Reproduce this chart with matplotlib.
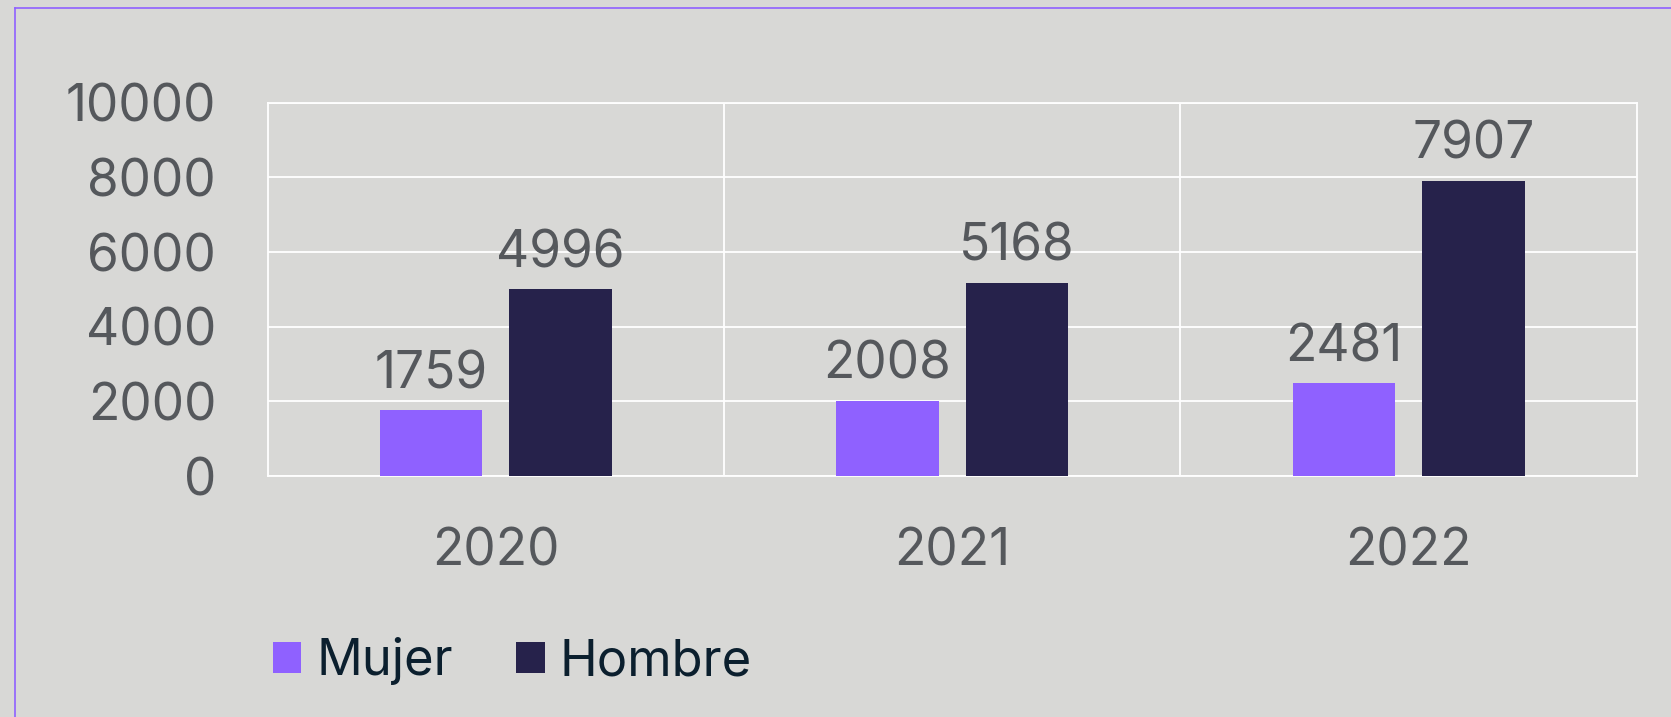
import matplotlib
matplotlib.use('Agg')
import matplotlib.pyplot as plt
from matplotlib.lines import Line2D
import numpy as np

# data
years = ['2020', '2021', '2022']
mujer = [1759, 2008, 2481]
hombre = [4996, 5168, 7907]
y_ticks = [0, 2000, 4000, 6000, 8000, 10000]

bg = '#d8d8d6'
c_mujer = '#8f61ff'
c_hombre = '#26224b'
c_text = '#55585c'
c_legend = '#0b1f2e'

plt.rcParams['font.family'] = ['Inter', 'DejaVu Sans']

fig = plt.figure(figsize=(16.71, 7.17), dpi=100, facecolor=bg)
ax = fig.add_axes([0.1601, 0.3361, 0.8195, 0.5207])
ax.set_facecolor(bg)

x = np.arange(len(years))
off = 0.142
w = 0.225
b1 = ax.bar(x - off, mujer, w, color=c_mujer, label='Mujer', zorder=3)
b2 = ax.bar(x + off, hombre, w, color=c_hombre, label='Hombre', zorder=3)

ax.bar_label(b1, padding=8, fontsize=37, color=c_text)
ax.bar_label(b2, padding=8, fontsize=37, color=c_text)

ax.set_xlim(-0.5, len(years) - 0.5)
ax.set_ylim(0, 10000)
ax.set_yticks(y_ticks)
ax.set_yticklabels([str(v) for v in y_ticks])
ax.set_xticks(x)
ax.set_xticklabels(years)

# white grid: horizontal at y ticks, vertical between categories
for v in y_ticks:
    ax.axhline(v, color='white', lw=1.3, zorder=1)
for b in [0.5, 1.5]:
    ax.axvline(b, color='white', lw=1.3, zorder=1)
for s in ax.spines.values():
    s.set_color('white')
    s.set_linewidth(1.3)

ax.tick_params(axis='y', length=0, pad=37, labelsize=37, labelcolor=c_text)
ax.tick_params(axis='x', length=0, pad=37, labelsize=37, labelcolor=c_text)

leg = ax.legend(loc='center left', bbox_to_anchor=(272.7 / 1671, 1 - 661 / 717),
                bbox_transform=fig.transFigure, ncol=2, frameon=False,
                fontsize=36.5, handlelength=0.56, handleheight=0.56,
                handletextpad=0.3, columnspacing=1.25, borderpad=0,
                borderaxespad=0)
for t in leg.get_texts():
    t.set_color(c_legend)

# purple frame lines (top and left)
fig.add_artist(Line2D([14.5 / 1671, 1], [1 - 8 / 717, 1 - 8 / 717],
                      transform=fig.transFigure, color=c_mujer, lw=1.2))
fig.add_artist(Line2D([14.5 / 1671, 14.5 / 1671], [0, 1 - 8 / 717],
                      transform=fig.transFigure, color=c_mujer, lw=1.2))

fig.savefig('out.png', dpi=100, facecolor=bg)
